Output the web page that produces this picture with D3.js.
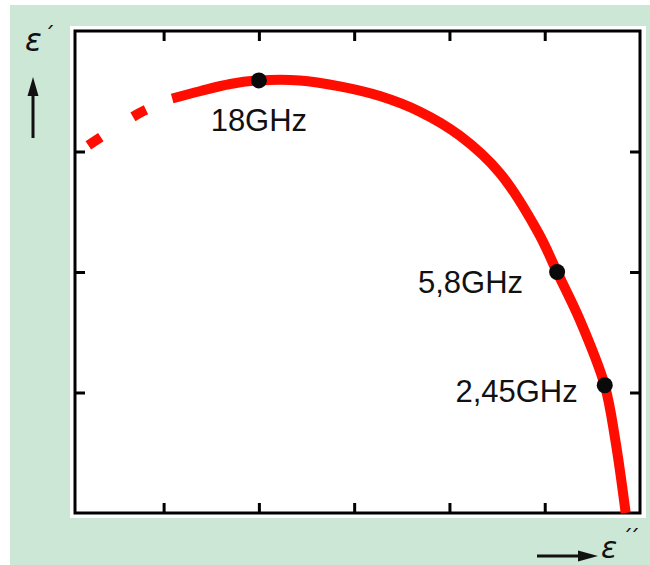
<html>
  <head>
    <script src="https://d3js.org/d3.v7.min.js"></script>
  </head>
  <style type="text/css">
    body { margin: 0; background: #fff; }
    svg { font-family: "Liberation Sans", Arial, sans-serif; }
    .curve { fill: none; stroke: #ff0d00; stroke-width: 10; }
    .tick line { stroke: #000; stroke-width: 3; }
    .label { font-size: 31px; fill: #111; }
    .sym { font-family: "DejaVu Sans", sans-serif; font-style: italic; font-size: 31px; fill: #111; }
    .prime { font-family: "DejaVu Sans", sans-serif; font-size: 22px; fill: #111; letter-spacing: -4px; }
  </style>
  <body>
    <div id="chart"></div>
  </body>
  <script type="text/javascript">
    // dotted start of the arc (eps'' , eps')
    var dashX = [0.21, 0.75, 1.09];
    var dashY = [3.05, 3.32, 3.44];

    // solid part of the arc
    var curveX = [1.09, 1.38, 1.70, 2.00, 2.43, 2.85, 3.27, 3.69, 4.11, 4.53, 4.93, 5.13, 5.37, 5.63, 5.74, 5.85];
    var curveY = [3.44, 3.50, 3.56, 3.59, 3.59, 3.54, 3.46, 3.33, 3.13, 2.82, 2.33, 2.00, 1.60, 1.06, 0.61, 0.00];

    // marked frequencies
    var markLabels = ["18GHz", "5,8GHz", "2,45GHz"];
    var markX = [2.00, 5.13, 5.63];
    var markY = [3.59, 2.00, 1.06];

    var xTicks = [1, 2, 3, 4, 5];
    var yTicks = [1, 2, 3];

    var width = 650, height = 565;

    var x = d3.scaleLinear().domain([0.07, 6]).range([75, 640]);
    var y = d3.scaleLinear().domain([0, 4]).range([513, 31]);

    var svg = d3.select("#chart").append("svg")
      .attr("width", width)
      .attr("height", height);

    /* green frame + white panel */
    svg.append("rect")
      .attr("x", 10).attr("y", 5)
      .attr("width", width - 10).attr("height", height - 5)
      .attr("fill", "#cde7d6");
    svg.append("rect")
      .attr("x", 70).attr("y", 26)
      .attr("width", 576).attr("height", 492)
      .attr("fill", "#fff");

    /* ticks pointing inward on all four sides */
    var tk = 10;
    svg.append("g").attr("transform", `translate(0, ${y(0)})`)
      .call(d3.axisBottom(x).tickValues(xTicks).tickSize(-tk).tickFormat(""));
    svg.append("g").attr("transform", `translate(0, ${y(4)})`)
      .call(d3.axisTop(x).tickValues(xTicks).tickSize(-tk).tickFormat(""));
    svg.append("g").attr("transform", `translate(${x(0.07)}, 0)`)
      .call(d3.axisLeft(y).tickValues(yTicks).tickSize(-tk).tickFormat(""));
    svg.append("g").attr("transform", `translate(${x(6)}, 0)`)
      .call(d3.axisRight(y).tickValues(yTicks).tickSize(-tk).tickFormat(""));
    svg.selectAll(".domain").remove();

    svg.append("rect")
      .attr("x", x(0.07)).attr("y", y(4))
      .attr("width", x(6) - x(0.07)).attr("height", y(0) - y(4))
      .attr("fill", "none").attr("stroke", "#000").attr("stroke-width", 3);

    /* arc */
    var line = d3.line()
      .x(d => x(d[0]))
      .y(d => y(d[1]))
      .curve(d3.curveCatmullRom);

    svg.append("path")
      .attr("class", "curve")
      .attr("d", line(d3.zip(dashX, dashY)))
      .attr("stroke-width", 8)
      .attr("stroke-dasharray", "15 38");

    svg.append("path")
      .attr("class", "curve")
      .attr("d", line(d3.zip(curveX, curveY)));

    /* frequency markers */
    var labelOffset = {
      "18GHz": [0, 51, "middle"],
      "5,8GHz": [-34, 21, "end"],
      "2,45GHz": [-27, 17, "end"]
    };

    markLabels.forEach(function(name, i) {
      svg.append("circle")
        .attr("cx", x(markX[i]))
        .attr("cy", y(markY[i]))
        .attr("r", 8)
        .attr("fill", "#0a0a0a");
      var o = labelOffset[name];
      svg.append("text")
        .attr("class", "label")
        .attr("x", x(markX[i]) + o[0])
        .attr("y", y(markY[i]) + o[1])
        .attr("text-anchor", o[2])
        .text(name);
    });

    /* axis symbols with arrows */
    svg.append("text").attr("class", "sym").attr("x", 25).attr("y", 51).text("\u03b5");
    svg.append("text").attr("class", "prime").attr("x", 44).attr("y", 42).text("\u00b4");
    svg.append("text").attr("class", "sym").attr("x", 601).attr("y", 558).style("font-size", "30px").text("\u03b5");
    svg.append("text").attr("class", "prime").attr("x", 622).attr("y", 545).text("\u00b4\u00b4");

    svg.append("line")
      .attr("x1", 33).attr("y1", 138).attr("x2", 33).attr("y2", 92)
      .attr("stroke", "#111").attr("stroke-width", 3);
    svg.append("path")
      .attr("d", "M33,77 L27.5,96 L38.5,96 Z")
      .attr("fill", "#111");

    svg.append("line")
      .attr("x1", 537).attr("y1", 556).attr("x2", 582).attr("y2", 556)
      .attr("stroke", "#111").attr("stroke-width", 3);
    svg.append("path")
      .attr("d", "M598,556 L578,550.5 L578,561.5 Z")
      .attr("fill", "#111");
  </script>
</html>
